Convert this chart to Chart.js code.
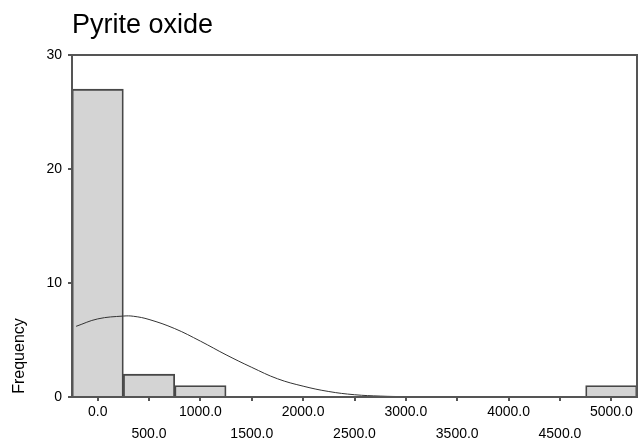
<!DOCTYPE html>
<html>
<head>
<meta charset="utf-8">
<title>Pyrite oxide</title>
<script src="https://cdn.jsdelivr.net/npm/chart.js@4.4.1/dist/chart.umd.min.js"></script>
<style>
    html, body { margin: 0; padding: 0; background: #fff; }
    #wrap { width: 638px; height: 441px; }
</style>
</head>
<body>
<div id="wrap"><canvas id="histChart" width="638" height="441"></canvas></div>
<script>
// histogram bins (bin centres, width 500) and counts
const binCenters = [0, 500, 1000, 5000];
const binCounts = [27, 2, 1, 1];

// normal curve
const curveX = [-210, 0, 250, 350, 500, 750, 1000, 1250, 1500, 1750, 2000, 2250, 2500, 2750, 3000, 3250];
const curveY = [6.2, 6.85, 7.1, 7.08, 6.8, 6.0, 4.9, 3.7, 2.6, 1.6, 0.95, 0.48, 0.2, 0.08, 0.03, 0.01];

// axis ticks
const xTicks = [0, 500, 1000, 1500, 2000, 2500, 3000, 3500, 4000, 4500, 5000];
const yTicks = [0, 10, 20, 30];

const titleText = 'Pyrite oxide';
const yTitle = 'Frequency';

document.addEventListener('DOMContentLoaded', function() {
    Chart.defaults.font.family = 'Arial, "Liberation Sans", sans-serif';
    Chart.defaults.color = '#000';

    const axisColor = '#555';

    // title, y-axis label and the box round the plot
    const decorations = {
        id: 'decorations',
        afterDraw(chart) {
            const ctx = chart.ctx;
            const area = chart.chartArea;
            ctx.save();
            ctx.strokeStyle = axisColor;
            ctx.lineWidth = 2;
            ctx.strokeRect(area.left, area.top, area.right - area.left, area.bottom - area.top);

            ctx.fillStyle = '#000';
            ctx.font = '27px Arial, "Liberation Sans", sans-serif';
            ctx.textAlign = 'left';
            ctx.textBaseline = 'alphabetic';
            ctx.fillText(titleText, 72, 33);

            ctx.translate(20, 356);
            ctx.rotate(-Math.PI / 2);
            ctx.font = '16px Arial, "Liberation Sans", sans-serif';
            ctx.textAlign = 'center';
            ctx.textBaseline = 'middle';
            ctx.fillText(yTitle, 0, 0);
            ctx.restore();
        }
    };

    const ctx = document.getElementById('histChart').getContext('2d');
    const histChart = new Chart(ctx, {
        type: 'bar',
        data: {
            datasets: [{
                type: 'line',
                data: curveX.map((x, i) => ({ x: x, y: curveY[i] })),
                borderColor: '#333',
                borderWidth: 1,
                pointRadius: 0,
                tension: 0.4,
                fill: false,
                order: 0
            }, {
                type: 'bar',
                data: binCenters.map((x, i) => ({ x: x, y: binCounts[i] })),
                backgroundColor: '#d4d4d4',
                borderColor: '#474747',
                borderWidth: 1.8,
                barPercentage: 1,
                categoryPercentage: 1,
                order: 1
            }]
        },
        options: {
            responsive: false,
            animation: false,
            layout: { padding: { left: 0, top: 55, right: 1, bottom: 0 } },
            plugins: {
                legend: { display: false },
                tooltip: { enabled: false },
                title: { display: false }
            },
            scales: {
                x: {
                    type: 'linear',
                    min: -250,
                    max: 5250,
                    offset: false,
                    grid: {
                        offset: false,
                        drawOnChartArea: false,
                        drawTicks: true,
                        tickLength: 4,
                        color: axisColor,
                        lineWidth: 2
                    },
                    border: { display: true, color: axisColor, width: 2 },
                    afterBuildTicks: function(scale) {
                        scale.ticks = xTicks.map(v => ({ value: v }));
                    },
                    afterFit: function(scale) {
                        scale.height = 44;
                    },
                    ticks: {
                        autoSkip: false,
                        maxRotation: 0,
                        padding: 0,
                        font: { size: 14, lineHeight: '22px' },
                        callback: function(value) {
                            const label = value.toFixed(1);
                            return value % 1000 === 0 ? label : ['', label];
                        }
                    }
                },
                y: {
                    min: 0,
                    max: 30,
                    grid: {
                        drawOnChartArea: false,
                        drawTicks: true,
                        tickLength: 4,
                        color: axisColor,
                        lineWidth: 2
                    },
                    border: { display: true, color: axisColor, width: 2 },
                    afterBuildTicks: function(scale) {
                        scale.ticks = yTicks.map(v => ({ value: v }));
                    },
                    afterFit: function(scale) {
                        scale.width = 72;
                    },
                    ticks: {
                        padding: 6,
                        font: { size: 14 }
                    }
                }
            }
        },
        plugins: [decorations]
    });
});
</script>
</body>
</html>
